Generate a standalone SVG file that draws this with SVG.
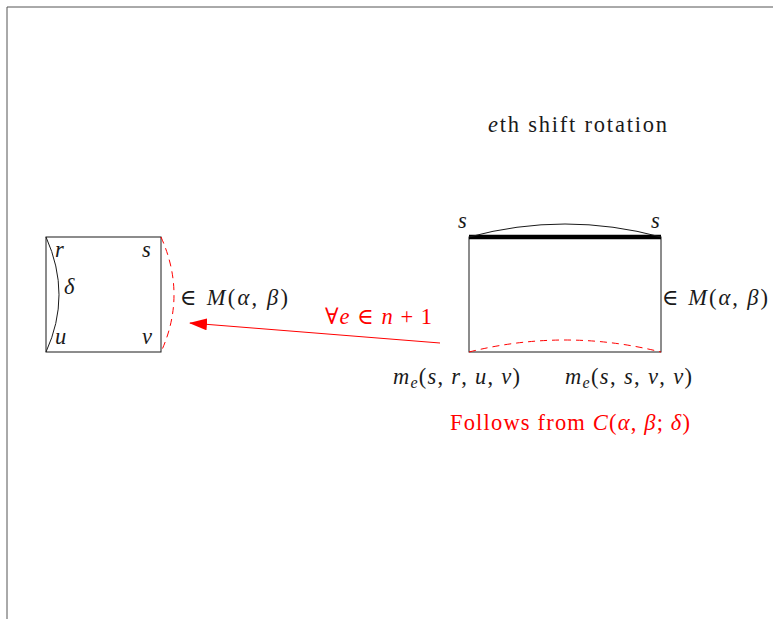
<svg xmlns="http://www.w3.org/2000/svg" width="773" height="619" viewBox="0 0 773 619">
<defs>
<marker id="ah" viewBox="0 0 18 12" refX="17" refY="6" markerWidth="18" markerHeight="12" markerUnits="userSpaceOnUse" orient="auto">
<path d="M0,0 L18,6 L0,12 z" fill="#ff0000"/>
</marker>
</defs>
<style>
text{font-family:"Liberation Serif","DejaVu Serif",serif;font-size:22.5px;fill:#1a1a1a}
.m{font-style:italic}
.red{fill:#ff0000}
.edge{fill:none;stroke:#1a1a1a;stroke-width:1}
.dash{fill:none;stroke:#ff0000;stroke-width:1;stroke-dasharray:7,5}
</style>
<rect width="773" height="619" fill="#ffffff"/>
<path d="M7,619 L7,7 L773,7" fill="none" stroke="#555" stroke-width="1"/>
<g id="left-square">
<rect x="46" y="237" width="115" height="115" class="edge"/>
<path d="M46,237 Q72,295 46,352" class="edge"/>
<path d="M161,237 Q187,295 161,352" class="dash"/>
<text x="55" y="257" class="m">r</text>
<text x="142" y="257" class="m">s</text>
<text x="64" y="294" class="m">δ</text>
<text x="55" y="344" class="m">u</text>
<text x="142" y="344" class="m">v</text>
<text x="180" y="305" textLength="108" lengthAdjust="spacing">∈ <tspan class="m">M</tspan>(<tspan class="m">α</tspan>, <tspan class="m">β</tspan>)</text>
</g>
<g id="right-rect">
<rect x="469" y="237" width="192" height="115" class="edge"/>
<line x1="469" y1="237" x2="661" y2="237" stroke="#000" stroke-width="4.5"/>
<path d="M469,237 Q565,211 661,237" class="edge"/>
<path d="M469,352 Q565,328 661,352" class="dash"/>
<text x="458" y="228" class="m">s</text>
<text x="651" y="228" class="m">s</text>
<text x="662" y="305" textLength="106" lengthAdjust="spacing">∈ <tspan class="m">M</tspan>(<tspan class="m">α</tspan>, <tspan class="m">β</tspan>)</text>
<text x="393" y="384" textLength="127" lengthAdjust="spacing"><tspan class="m">m</tspan><tspan class="m" font-size="16" dy="4">e</tspan><tspan dy="-4">(</tspan><tspan class="m">s</tspan>, <tspan class="m">r</tspan>, <tspan class="m">u</tspan>, <tspan class="m">v</tspan>)</text>
<text x="565" y="384" textLength="127" lengthAdjust="spacing"><tspan class="m">m</tspan><tspan class="m" font-size="16" dy="4">e</tspan><tspan dy="-4">(</tspan><tspan class="m">s</tspan>, <tspan class="m">s</tspan>, <tspan class="m">v</tspan>, <tspan class="m">v</tspan>)</text>
<text x="450" y="430" class="red" textLength="240" lengthAdjust="spacing">Follows from <tspan class="m">C</tspan>(<tspan class="m">α</tspan>, <tspan class="m">β</tspan>; <tspan class="m">δ</tspan>)</text>
<text x="488" y="132" textLength="179" lengthAdjust="spacing"><tspan class="m">e</tspan>th shift rotation</text>
</g>
<g id="connectors">
<line x1="440" y1="343" x2="190" y2="323" stroke="#ff0000" stroke-width="1" marker-end="url(#ah)"/>
<text x="325" y="324" class="red" textLength="107" lengthAdjust="spacing">∀<tspan class="m">e</tspan> ∈ <tspan class="m">n</tspan> + 1</text>
</g>
</svg>
